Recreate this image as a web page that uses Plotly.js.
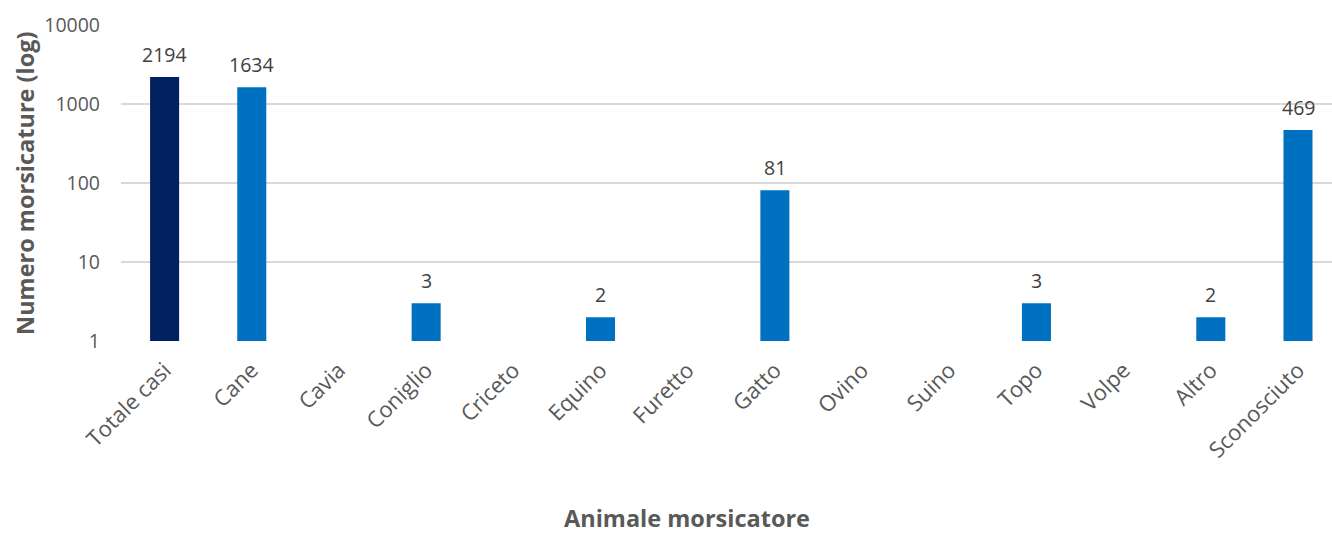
<!DOCTYPE html>
<html>
<head>
<meta charset="utf-8">
<script src="https://cdn.plot.ly/plotly-3.0.1.min.js"></script>
<style>html,body{margin:0;padding:0;background:#fff;}#chart{width:1332px;height:537px;}</style>
</head>
<body>
<div id="chart"></div>
<script>
const categories = ["Totale casi","Cane","Cavia","Coniglio","Criceto","Equino","Furetto","Gatto","Ovino","Suino","Topo","Volpe","Altro","Sconosciuto"];
const values = [2194, 1634, null, 3, null, 2, null, 81, null, null, 3, null, 2, 469];
const barColors = ["#002060","#0070C0","#0070C0","#0070C0","#0070C0","#0070C0","#0070C0","#0070C0","#0070C0","#0070C0","#0070C0","#0070C0","#0070C0","#0070C0"];
const yTickVals = [1, 10, 100, 1000, 10000];
const yTickText = ["1", "10", "100", "1000", "10000"];

const FONT = "Open Sans, Noto Sans, sans-serif";
const GRAY = "#595959";

const labelAnnotations = [];
categories.forEach((c, i) => {
  if (values[i] !== null) {
    labelAnnotations.push({
      x: c, y: Math.log10(values[i]), xref: "x", yref: "y",
      text: String(values[i]), showarrow: false,
      yanchor: "bottom", yshift: 7,
      font: {family: FONT, size: 19.5, color: "#404040"}
    });
  }
});

const trace = {
  type: "bar",
  x: categories,
  y: values,
  marker: {color: barColors},
  width: 0.333,
  hoverinfo: "x+y"
};

const layout = {
  width: 1332, height: 537,
  margin: {l: 121, r: 0, t: 25, b: 196},
  paper_bgcolor: "#ffffff", plot_bgcolor: "#ffffff",
  showlegend: false,
  font: {family: FONT, color: GRAY},
  xaxis: {
    type: "category",
    range: [-0.5, 13.39],
    tickangle: -45,
    tickfont: {family: FONT, size: 22, color: GRAY},
    showgrid: false, zeroline: false, showline: false, ticks: "",
    ticklabelstandoff: 11
  },
  yaxis: {
    type: "log",
    range: [0, 4],
    tickvals: yTickVals, ticktext: yTickText,
    tickfont: {family: FONT, size: 19.5, color: GRAY},
    showgrid: true, gridcolor: "#d9d9d9", gridwidth: 1.5,
    zeroline: false, showline: false, ticks: "",
    ticklabelstandoff: 20
  },
  annotations: labelAnnotations.concat([
    {
      text: "<b>Animale morsicatore</b>", showarrow: false,
      xref: "paper", yref: "paper", x: 0.4675, y: -0.56,
      xanchor: "center", yanchor: "middle", borderpad: 0,
      font: {family: FONT, size: 23.5, color: GRAY}
    },
    {
      text: "<b>Numero morsicature (log)</b>", showarrow: false,
      xref: "paper", yref: "paper", x: -0.0793, y: 0.5,
      xanchor: "center", yanchor: "middle", textangle: -90,
      font: {family: FONT, size: 23.5, color: GRAY}
    }
  ])
};

Plotly.newPlot("chart", [trace], layout, {displayModeBar: false, staticPlot: true});
</script>
</body>
</html>
